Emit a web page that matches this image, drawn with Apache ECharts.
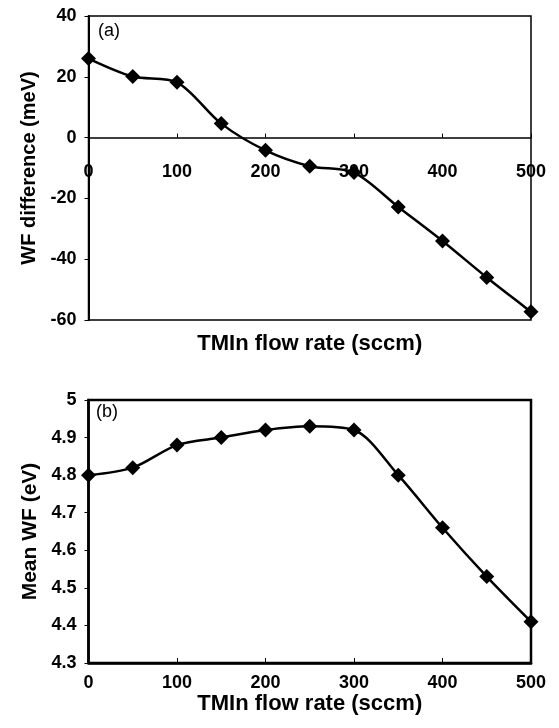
<!DOCTYPE html>
<html>
<head>
<meta charset="utf-8">
<script src="https://cdn.jsdelivr.net/npm/echarts@6/dist/echarts.min.js"></script>
<style>
  html, body { margin: 0; padding: 0; background: #fff; }
  #main { width: 559px; height: 728px; }
</style>
</head>
<body>
<div id="main"></div>
<script>
// TMIn flow rate (sccm)
var flowRate = [0, 50, 100, 150, 200, 250, 300, 350, 400, 450, 500];
// (a) WF difference (meV)
var wfDiff = [26, 20.1, 18.2, 4.6, -4.2, -9.4, -11.5, -22.8, -34, -46, -57.3];
// (b) Mean WF (eV)
var meanWF = [4.80, 4.82, 4.88, 4.90, 4.92, 4.93, 4.92, 4.80, 4.66, 4.53, 4.41];

var fontFam = '"Liberation Sans", Arial, sans-serif';

function pairs(xs, ys) {
    return xs.map(function (x, i) { return [x, ys[i]]; });
}

var labelStyle = {
    color: '#000',
    fontFamily: fontFam,
    fontWeight: 'bold',
    fontSize: 18
};

var myChart = echarts.init(document.getElementById('main'));
var option = {
    animation: false,
    backgroundColor: '#fff',
    grid: [{
        left: 88.5, right: 28, top: 16, bottom: 408,
        show: true, borderColor: '#000', borderWidth: 1.5
    }, {
        left: 88.5, right: 28, top: 400, bottom: 65,
        show: true, borderColor: '#000', borderWidth: 2.5
    }],
    xAxis: [{
        // line on zero; labels pulled up from the frame bottom to just under the zero line
        gridIndex: 0,
        type: 'value',
        min: 0, max: 500, interval: 100,
        axisLine: { onZero: true, lineStyle: { color: '#000', width: 1.5 } },
        axisTick: { show: true, inside: true, length: 4, lineStyle: { color: '#000' } },
        axisLabel: Object.assign({ margin: -157 }, labelStyle),
        splitLine: { show: false },
        name: 'TMIn flow rate (sccm)',
        nameLocation: 'middle',
        nameGap: 13,
        nameTextStyle: { color: '#000', fontFamily: fontFam, fontWeight: 'bold', fontSize: 22, verticalAlign: 'top' }
    }, {
        gridIndex: 1,
        type: 'value',
        min: 0, max: 500, interval: 100,
        axisLine: { onZero: false, lineStyle: { color: '#000', width: 2.5 } },
        axisTick: { show: true, inside: true, length: 5, lineStyle: { color: '#000' } },
        axisLabel: Object.assign({ margin: 11 }, labelStyle),
        splitLine: { show: false },
        name: 'TMIn flow rate (sccm)',
        nameLocation: 'middle',
        nameGap: 29,
        nameTextStyle: { color: '#000', fontFamily: fontFam, fontWeight: 'bold', fontSize: 22, verticalAlign: 'top' }
    }],
    yAxis: [{
        gridIndex: 0,
        type: 'value',
        min: -60, max: 40, interval: 20,
        axisLine: { show: true, onZero: false, lineStyle: { color: '#000', width: 2 } },
        axisTick: { show: true, length: 4, lineStyle: { color: '#000' } },
        axisLabel: Object.assign({ margin: 12 }, labelStyle),
        splitLine: { show: false },
        name: 'WF difference (meV)',
        nameLocation: 'middle',
        nameGap: 38,
        nameTextStyle: { color: '#000', fontFamily: fontFam, fontWeight: 'bold', fontSize: 20 }
    }, {
        gridIndex: 1,
        type: 'value',
        min: 4.3, max: 5, interval: 0.1,
        axisLine: { show: true, onZero: false, lineStyle: { color: '#000', width: 2.5 } },
        axisTick: { show: true, length: 4, lineStyle: { color: '#000' } },
        axisLabel: Object.assign({
            margin: 12,
            formatter: function (v) { return String(+v.toFixed(1)); }
        }, labelStyle),
        splitLine: { show: false },
        name: 'Mean WF (eV)',
        nameLocation: 'middle',
        nameGap: 38,
        nameTextStyle: { color: '#000', fontFamily: fontFam, fontWeight: 'bold', fontSize: 21 }
    }],
    graphic: [{
        type: 'text', left: 98, top: 22,
        style: { text: '(a)', fill: '#000', font: '18px ' + fontFam }
    }, {
        type: 'text', left: 96, top: 403,
        style: { text: '(b)', fill: '#000', font: '18px ' + fontFam }
    }],
    series: [{
        name: 'WF difference',
        type: 'line',
        xAxisIndex: 0, yAxisIndex: 0,
        data: pairs(flowRate, wfDiff),
        smooth: 0.3,
        symbol: 'diamond',
        symbolSize: 15,
        itemStyle: { color: '#000' },
        lineStyle: { color: '#000', width: 2.5 },
        z: 5
    }, {
        name: 'Mean WF',
        type: 'line',
        xAxisIndex: 1, yAxisIndex: 1,
        data: pairs(flowRate, meanWF),
        smooth: 0.3,
        symbol: 'diamond',
        symbolSize: 15,
        itemStyle: { color: '#000' },
        lineStyle: { color: '#000', width: 2.5 },
        z: 5
    }]
};
myChart.setOption(option);
</script>
</body>
</html>
